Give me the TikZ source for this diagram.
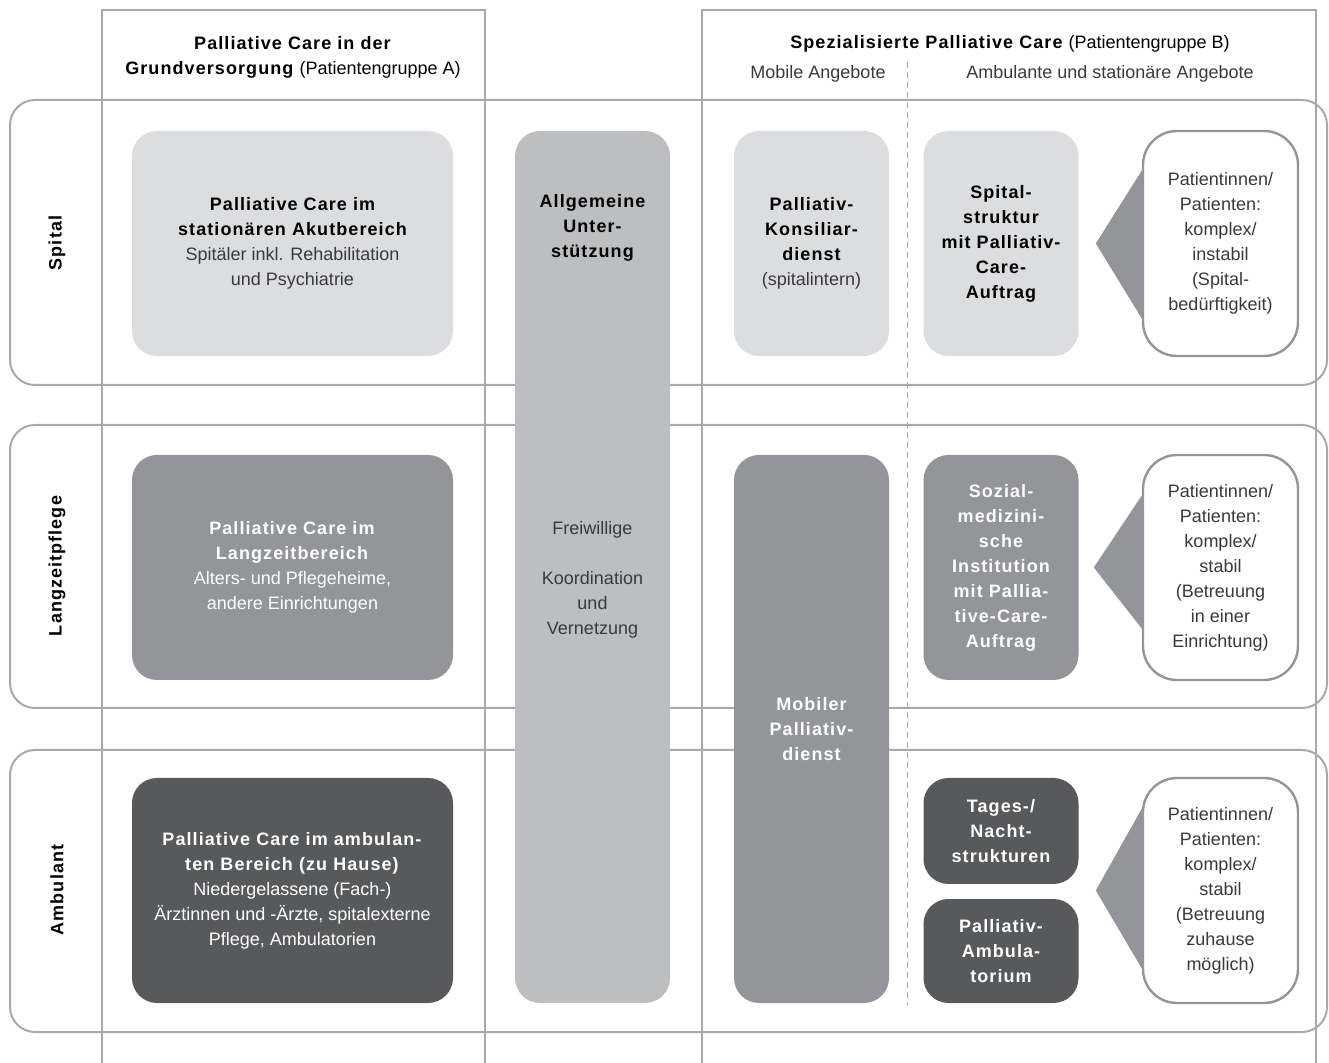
\documentclass[tikz,border=0pt]{standalone}
\usepackage{fontspec}
\setmainfont{Liberation Sans}[BoldFeatures={LetterSpace=6}]
\usetikzlibrary{backgrounds,calc}
\definecolor{cLight}{HTML}{DCDDDF}
\definecolor{cMid}{HTML}{939598}
\definecolor{cDark}{HTML}{58595B}
\definecolor{cBar}{HTML}{BCBEC0}
\definecolor{cGrid}{HTML}{A7A9AC}
\definecolor{cText}{HTML}{3A3A3C}

\begin{document}
\begin{tikzpicture}[x=0.5pt,y=-0.5pt,
  every node/.style={font=\fontsize{9}{12.5}\selectfont, align=center, inner sep=0pt},
  frame/.style={draw=cGrid, line width=1pt},
  rowframe/.style={frame, rounded corners=12.5pt},
  divider/.style={draw=cGrid, line width=0.5pt, dash pattern=on 3pt off 2pt},
  box/.style={rounded corners=12.5pt, minimum width=77.5pt, minimum height=112.5pt},
  widebox/.style={box, minimum width=160.5pt},
  lightfill/.style={fill=cLight, text=cText},
  midfill/.style={fill=cMid, text=white},
  darkfill/.style={fill=cDark, text=white},
  bubble/.style={draw=cMid, line width=1.2pt, fill=white, text=cText,
    rounded corners=17pt, minimum width=77.5pt, minimum height=112.5pt},
  pointer/.style={fill=cMid},
  rowlabel/.style={rotate=90, font=\fontsize{9}{12.5}\selectfont\bfseries}
]
\useasboundingbox (0,0) rectangle (1329,1063);

% columns and rows
\draw[frame] (102,1063) -- (102,10) -- (485,10) -- (485,1063);
\draw[frame] (702,1063) -- (702,10) -- (1316,10) -- (1316,1063);
\draw[rowframe] (10,100) rectangle (1327,385);
\draw[rowframe] (10,425) rectangle (1327,708);
\draw[rowframe] (10,750) rectangle (1327,1032);
\draw[divider] (907,62) -- (907,1005);

% headers
\node (hdA) at (293,57) {\textbf{Palliative Care in der}\\
  \textbf{Grundversorgung} (Patientengruppe A)};
\node (hdB) at (1010,44) {\textbf{Spezialisierte Palliative Care} (Patientengruppe B)};
\node[text=cText] (hdMobil) at (818,74) {Mobile Angebote};
\node[text=cText] (hdStat) at (1110,74) {Ambulante und station\"are Angebote};

\node[rowlabel] (lblSpital) at (57,243) {Spital};
\node[rowlabel] (lblLang) at (57,566) {Langzeitpflege};
\node[rowlabel] (lblAmb) at (57,890) {Ambulant};

% Grundversorgung
\node[widebox, lightfill] (akut) at (292.5,243.5) {\textbf{\color{black}Palliative Care im}\\
  \textbf{\color{black}station\"aren Akutbereich}\\Spit\"aler inkl. Rehabilitation\\und Psychiatrie};
\node[widebox, midfill] (langzeit) at (292.5,567.5) {\textbf{Palliative Care im}\\
  \textbf{Langzeitbereich}\\Alters- und Pflegeheime,\\andere Einrichtungen};
\node[widebox, darkfill] (ambulant) at (292.5,890.5) {\textbf{Palliative Care im ambulan-}\\
  \textbf{ten Bereich (zu Hause)}\\Niedergelassene (Fach-)\\\"Arztinnen und -\"Arzte, spitalexterne\\Pflege, Ambulatorien};

% Allgemeine Unterstuetzung
\node[box, fill=cBar, minimum height=436pt] (allg) at (592.5,567) {};
\node[font=\fontsize{9}{12.5}\selectfont\bfseries] (allgT) at (592.5,228) {Allgemeine\\Unter-\\st\"utzung};
\node[text=cText] (allgB) at (592.5,580) {Freiwillige\\[12.5pt]Koordination\\und\\Vernetzung};

% mobile Angebote
\node[box, lightfill] (konsil) at (811.5,243.5) {\textbf{\color{black}Palliativ-}\\
  \textbf{\color{black}Konsiliar-}\\\textbf{\color{black}dienst}\\(spitalintern)};
\node[box, midfill, minimum height=274pt, font=\fontsize{9}{12.5}\selectfont\bfseries] (mobil) at (811.5,729) {Mobiler\\Palliativ-\\dienst};

% ambulante und stationaere Angebote
\node[box, lightfill, text=black, font=\fontsize{9}{12.5}\selectfont\bfseries] (spitstr) at (1001,243.5) {Spital-\\struktur\\mit Palliativ-\\Care-\\Auftrag};
\node[box, midfill, font=\fontsize{9}{12.5}\selectfont\bfseries] (sozial) at (1001,567.5) {Sozial-\\medizini-\\sche\\Institution\\mit Pallia-\\tive-Care-\\Auftrag};
\node[box, darkfill, minimum height=53pt, font=\fontsize{9}{12.5}\selectfont\bfseries] (tages) at (1001,831) {Tages-/\\Nacht-\\strukturen};
\node[box, darkfill, minimum height=52pt, font=\fontsize{9}{12.5}\selectfont\bfseries] (palamb) at (1001,951) {Palliativ-\\Ambula-\\torium};

% Patientengruppen
\node[bubble] (pat1) at (1220.5,243.5) {Patientinnen/\\Patienten:\\komplex/\\instabil\\(Spital-\\bed\"urftigkeit)};
\node[bubble] (pat2) at (1220.5,567.5) {Patientinnen/\\Patienten:\\komplex/\\stabil\\(Betreuung\\in einer\\Einrichtung)};
\node[bubble] (pat3) at (1220.5,890.5) {Patientinnen/\\Patienten:\\komplex/\\stabil\\(Betreuung\\zuhause\\m\"oglich)};

\begin{scope}[on background layer]
\fill[pointer] ($(pat1.west)+(-46,0)$) -- ($(pat1.west)+(0,-73)$) -- ($(pat1.west)+(0,75)$) -- cycle;
\fill[pointer] ($(pat2.west)+(-48,0)$) -- ($(pat2.west)+(0,-72)$) -- ($(pat2.west)+(0,61)$) -- cycle;
\fill[pointer] ($(pat3.west)+(-46,0)$) -- ($(pat3.west)+(0,-82)$) -- ($(pat3.west)+(0,78)$) -- cycle;
\end{scope}
\end{tikzpicture}
\end{document}
